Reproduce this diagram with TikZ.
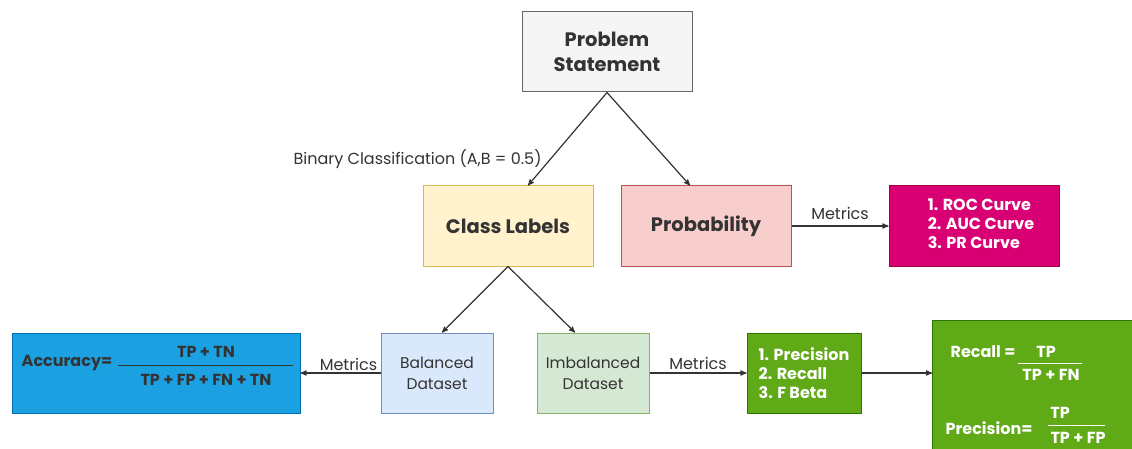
\documentclass[tikz,border=0pt]{standalone}
\usepackage{fontspec}
\setmainfont{Poppins}
\usetikzlibrary{arrows}
\definecolor{txtgray}{HTML}{333333}
\definecolor{linegray}{HTML}{333333}
\definecolor{grayfill}{HTML}{F5F5F5}
\definecolor{grayline}{HTML}{666666}
\definecolor{yellowfill}{HTML}{FFF2CC}
\definecolor{yellowline}{HTML}{D6B656}
\definecolor{redfill}{HTML}{F8CECC}
\definecolor{redline}{HTML}{B85450}
\definecolor{magentafill}{HTML}{D80073}
\definecolor{magentaline}{HTML}{A50040}
\definecolor{bluefill}{HTML}{DAE8FC}
\definecolor{blueline}{HTML}{6C8EBF}
\definecolor{greenfill}{HTML}{D5E8D4}
\definecolor{greenline}{HTML}{82B366}
\definecolor{accfill}{HTML}{1BA1E2}
\definecolor{accline}{HTML}{006EAF}
\definecolor{listfill}{HTML}{60A917}
\definecolor{listline}{HTML}{2D7600}
\tikzset{
    box/.style = {rectangle, align=center, inner sep=0pt, minimum width=170pt, minimum height=80pt, line width=1pt, text=txtgray, font=\bfseries\fontsize{19.5}{25}\selectfont},
    smallbox/.style = {box, minimum width=112pt, font=\fontsize{15.5}{21}\selectfont},
    listbox/.style = {box, text=white, font=\bfseries\fontsize{16}{19}\selectfont},
    tag/.style = {inner sep=0pt, text=txtgray, font=\fontsize{16}{18}\selectfont},
    acctext/.style = {inner sep=0pt, text=txtgray, font=\bfseries\fontsize{16}{18}\selectfont},
    fmtext/.style = {inner sep=0pt, text=white, font=\bfseries\fontsize{16}{18}\selectfont},
    flow/.style = {->, >=stealth', line width=1.2pt, draw=linegray},
    bar/.style = {line width=1pt}
}
\begin{document}
\begin{tikzpicture}[x=1pt, y=-1pt]
    \useasboundingbox (0,0) rectangle (1132,449);
    \clip (0,0) rectangle (1132,449);

    % top part
    \node [box, fill=grayfill, draw=grayline] (problem) at (607,52) {Problem\\Statement};
    \node [box, fill=yellowfill, draw=yellowline] (classes) at (508,226) {Class Labels};
    \node [box, fill=redfill, draw=redline] (proba) at (706,226) {Probability};
    \node [listbox, fill=magentafill, draw=magentaline] (curves) at (974,226)
        {\begin{tabular}{@{\hspace{14pt}}l@{}}1. ROC Curve\\2. AUC Curve\\3. PR Curve\end{tabular}};

    % datasets
    \node [smallbox, fill=bluefill, draw=blueline] (balanced) at (437,373) {Balanced\\Dataset};
    \node [smallbox, fill=greenfill, draw=greenline] (imbalanced) at (593,373) {Imbalanced\\Dataset};
    \node [box, minimum width=288pt, fill=accfill, draw=accline] (accuracy) at (156,373) {};
    \node [listbox, minimum width=114pt, align=left, fill=listfill, draw=listline] (prlist) at (804,373)
        {1. Precision\\2. Recall\\3. F Beta};
    \node [box, anchor=north west, minimum width=230pt, minimum height=150pt, fill=listfill, draw=listline] (formulas) at (932,320) {};

    % accuracy formula
    \node [acctext] (acclabel) at (67,363) {Accuracy=};
    \node [acctext] (accnum) at (206,352) {TP + TN};
    \node [acctext] (accden) at (206,380) {TP + FP + FN + TN};
    \coordinate (accbarL) at (118,365);
    \coordinate (accbarR) at (293,365);
    \draw [bar, draw=txtgray] (accbarL) -- (accbarR);

    % recall and precision formulas
    \node [fmtext] (reclabel) at (983,352) {Recall =};
    \node [fmtext] (recnum) at (1046,352) {TP};
    \node [fmtext] (recden) at (1051,375) {TP + FN};
    \coordinate (recbarL) at (1018,363);
    \coordinate (recbarR) at (1082,363);
    \draw [bar, draw=white] (recbarL) -- (recbarR);
    \node [fmtext] (preclabel) at (989,428) {Precision=};
    \node [fmtext] (precnum) at (1060,413) {TP};
    \node [fmtext] (precden) at (1078,438) {TP + FP};
    \coordinate (precbarL) at (1048,425);
    \coordinate (precbarR) at (1105,425);
    \draw [bar, draw=white] (precbarL) -- (precbarR);

    % connectors
    \draw [flow] (problem.south) -- node [tag, pos=0.72, left=8pt] (binary) {Binary Classification (A,B = 0.5)} ([xshift=20pt]classes.north);
    \draw [flow] (problem.south) -- ([xshift=-16pt]proba.north);
    \draw [flow] (classes.south) -- ([xshift=5pt]balanced.north);
    \draw [flow] (classes.south) -- ([xshift=-18pt]imbalanced.north);
    \draw [flow] (proba) -- node [tag, above=6pt] (metrics1) {Metrics} (curves);
    \draw [flow] (balanced) -- node [tag, pos=0.4, above=2pt] (metrics2) {Metrics} (accuracy);
    \draw [flow] (imbalanced) -- node [tag, above=3pt] (metrics3) {Metrics} (prlist);
    \draw [flow] (prlist.east) -- (prlist.east -| formulas.west);
\end{tikzpicture}
\end{document}
